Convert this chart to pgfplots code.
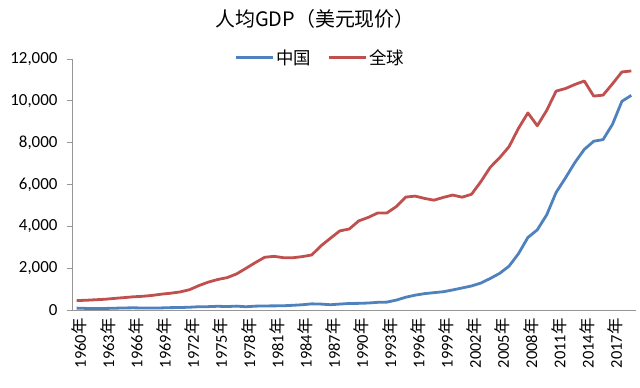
\documentclass[border=0pt]{standalone}
\usepackage{fontspec}
\setmainfont{Carlito}
\newfontfamily\cjk{Noto Sans CJK SC}
\usepackage{pgfplots}
\pgfplotsset{compat=1.18}
\definecolor{cnblue}{RGB}{79,129,189}
\definecolor{wred}{RGB}{192,80,77}
\definecolor{axgray}{RGB}{150,150,150}
\newcommand\nian{{\cjk 年}}
\begin{document}
\begin{tikzpicture}
\begin{axis}[
  at={(0,0)}, anchor=south west, scale only axis,
  width=564bp, height=251bp,
  xmin=1959.5, xmax=2019.5, ymin=0, ymax=12000,
  axis x line*=bottom, axis y line*=left,
  axis line style={axgray, line width=0.8bp, -},
  tick style={axgray, line width=0.8bp},
  tick align=outside,
  ytick={0,2000,...,12000},
  scaled y ticks=false,
  yticklabel={\pgfmathprintnumber[fixed,precision=0,1000 sep={,},assume math mode=true]{\tick}},
  major tick length=5bp,
  minor tick length=5bp,
  xtick={1960,1963,...,2017},
  x tick style={draw=none},
  minor xtick={1959.5,1960.5,...,2019.5},
  minor x tick style={axgray, line width=0.8bp},
  xticklabels={1960\nian,1963\nian,1966\nian,1969\nian,1972\nian,1975\nian,1978\nian,1981\nian,1984\nian,1987\nian,1990\nian,1993\nian,1996\nian,1999\nian,2002\nian,2005\nian,2008\nian,2011\nian,2014\nian,2017\nian},
  xticklabel style={rotate=90, anchor=east, font=\fontsize{16.5}{16.5}\selectfont, black, yshift=-3bp},
  yticklabel style={font=\fontsize{17}{17}\selectfont, black, xshift=-6bp},
  legend style={at={(axis description cs:0.44,1.004)}, anchor=center, draw=none, fill=none,
    legend columns=2, font=\cjk\fontsize{17.5}{17.5}\selectfont,
    /tikz/every even column/.append style={column sep=14bp},
    /tikz/every odd column/.append style={column sep=0bp},
    nodes={inner xsep=2bp}},
  legend image code/.code={\draw[#1, line width=3bp] (0bp,0bp) -- (37bp,0bp);},
]
\addplot[cnblue, line width=2.8bp, line join=round] coordinates {
(1960,90)(1961,76)(1962,71)(1963,74)(1964,85)(1965,98)(1966,104)(1967,97)(1968,91)(1969,100)
(1970,113)(1971,119)(1972,132)(1973,157)(1974,160)(1975,178)(1976,165)(1977,185)(1978,156)(1979,184)
(1980,195)(1981,197)(1982,203)(1983,225)(1984,251)(1985,294)(1986,282)(1987,252)(1988,284)(1989,311)
(1990,318)(1991,333)(1992,366)(1993,377)(1994,473)(1995,610)(1996,709)(1997,782)(1998,829)(1999,873)
(2000,959)(2001,1053)(2002,1149)(2003,1289)(2004,1509)(2005,1753)(2006,2099)(2007,2694)(2008,3468)(2009,3832)
(2010,4550)(2011,5618)(2012,6317)(2013,7051)(2014,7679)(2015,8067)(2016,8148)(2017,8879)(2018,9977)(2019,10262)
};
\addlegendentry{中国}
\addplot[wred, line width=2.8bp, line join=round] coordinates {
(1960,452)(1961,466)(1962,490)(1963,514)(1964,554)(1965,591)(1966,630)(1967,655)(1968,696)(1969,757)
(1970,803)(1971,864)(1972,970)(1973,1167)(1974,1333)(1975,1458)(1976,1548)(1977,1723)(1978,1991)(1979,2265)
(1980,2521)(1981,2566)(1982,2500)(1983,2498)(1984,2553)(1985,2630)(1986,3071)(1987,3435)(1988,3784)(1989,3873)
(1990,4259)(1991,4423)(1992,4634)(1993,4640)(1994,4944)(1995,5398)(1996,5445)(1997,5335)(1998,5250)(1999,5383)
(2000,5495)(2001,5393)(2002,5532)(2003,6138)(2004,6826)(2005,7283)(2006,7812)(2007,8688)(2008,9422)(2009,8809)
(2010,9542)(2011,10465)(2012,10588)(2013,10782)(2014,10948)(2015,10227)(2016,10274)(2017,10815)(2018,11380)(2019,11429)
};
\addlegendentry{全球}
\end{axis}
\node[font=\cjk\fontsize{20}{20}\selectfont] at (243bp,291bp) {人均GDP（美元现价）};
\pgfresetboundingbox
\path (-72bp,-78bp) rectangle (568bp,310bp);
\end{tikzpicture}
\end{document}
